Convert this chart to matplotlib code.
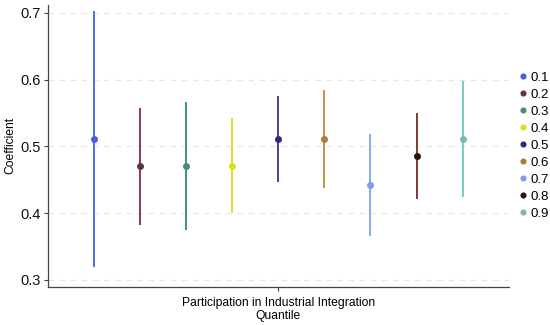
import numpy as np
import matplotlib.pyplot as plt

plt.rcParams["font.family"] = ["Liberation Sans", "DejaVu Sans"]

quantiles = [0.1, 0.2, 0.3, 0.4, 0.5, 0.6, 0.7, 0.8, 0.9]
labels = ["0.1", "0.2", "0.3", "0.4", "0.5", "0.6", "0.7", "0.8", "0.9"]
coef = [0.511, 0.470, 0.470, 0.471, 0.511, 0.511, 0.442, 0.486, 0.511]
lower = [0.320, 0.382, 0.375, 0.400, 0.447, 0.438, 0.366, 0.422, 0.425]
upper = [0.703, 0.558, 0.567, 0.543, 0.575, 0.585, 0.518, 0.550, 0.598]

line_colors = ["#4a6ee0", "#8e3563", "#3e9478", "#dede2a", "#4b3f9a",
               "#c4904a", "#86a8f2", "#7a3b30", "#7ccac4"]
dot_colors = ["#4a5ce0", "#5e3440", "#4f8a70", "#d8e020", "#2e2a80",
              "#a88034", "#7f9cf0", "#2a1410", "#7ab8b0"]

fig = plt.figure(figsize=(5.5, 3.25), dpi=100)
ax = fig.add_axes([0.087, 0.117, 0.838, 0.868])

for q, c, lo, hi, lc, dc, lab in zip(quantiles, coef, lower, upper,
                                      line_colors, dot_colors, labels):
    ax.vlines(q, lo, hi, color=lc, lw=1.4, zorder=2)
    ax.plot(q, c, "o", color=dc, ms=4.0, zorder=3, label=lab)

ax.set_xlim(0, 1)
ax.set_ylim(0.2895, 0.712)
ax.set_xticks([0.5])
ax.set_xticklabels([""])
ax.set_yticks([0.3, 0.4, 0.5, 0.6, 0.7])
ax.set_yticklabels(["0.3", "0.4", "0.5", "0.6", "0.7"])
ax.yaxis.grid(True, ls=(0, (5, 5)), color="#e6e6e6", lw=0.8)
ax.set_axisbelow(True)
for s in ["top", "right"]:
    ax.spines[s].set_visible(False)
for s in ["left", "bottom"]:
    ax.spines[s].set_color("#444444")
    ax.spines[s].set_linewidth(0.9)
ax.tick_params(colors="#444444", labelsize=10.5, length=3, width=0.8,
               labelcolor="#111111", pad=2)
ax.set_ylabel("Coefficient", fontsize=8.7, labelpad=3)
ax.set_xlabel("Participation in Industrial Integration\nQuantile",
              fontsize=8.7, labelpad=2, linespacing=1.1)

ax.legend(loc="center left", bbox_to_anchor=(0.99, 0.5), frameon=False,
          fontsize=9.5, handletextpad=0.1, handlelength=1.0,
          labelspacing=0.36, markerscale=0.85)

fig.savefig("out.png", dpi=100)
